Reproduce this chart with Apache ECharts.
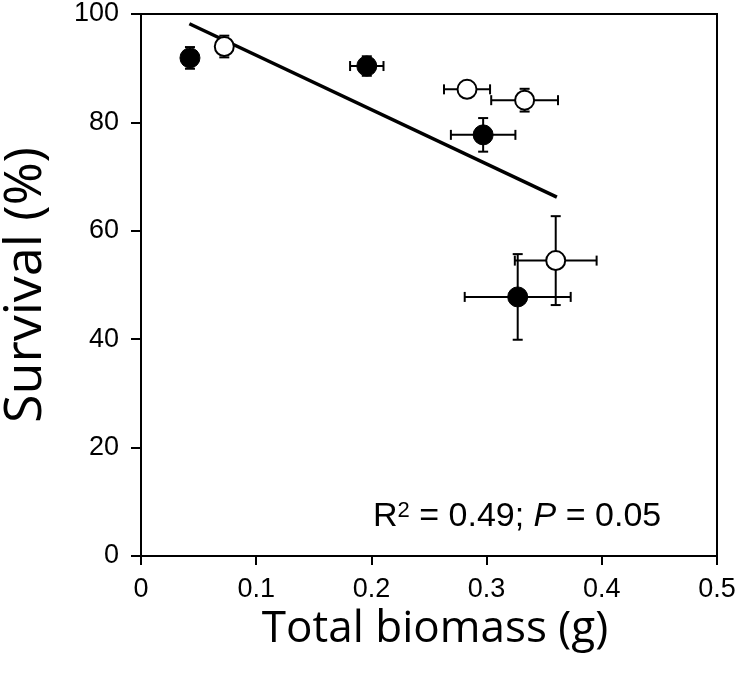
<!DOCTYPE html>
<html>
<head>
<meta charset="utf-8">
<script src="https://cdn.jsdelivr.net/npm/echarts@6/dist/echarts.min.js"></script>
<style>html,body{margin:0;padding:0;background:#fff}#c{width:741px;height:681px}</style>
</head>
<body>
<div id="c"></div>
<script>
// Filled circles: x, y, x error, y error
const filledX    = [0.0425, 0.196, 0.297, 0.327];
const filledY    = [91.9, 90.4, 77.7, 47.8];
const filledXErr = [0.0, 0.0145, 0.028, 0.046];
const filledYErr = [2.0, 1.8, 3.1, 7.9];
// Open circles
const openX    = [0.0723, 0.283, 0.333, 0.360];
const openY    = [94.0, 86.1, 84.1, 54.5];
const openXErr = [0.0, 0.020, 0.029, 0.0355];
const openYErr = [2.0, 0.0, 2.1, 8.2];
// Regression line endpoints
const lineX = [0.042, 0.361];
const lineY = [98.2, 66.2];
const xTicks = [0, 0.1, 0.2, 0.3, 0.4, 0.5];
const yTicks = [0, 20, 40, 60, 80, 100];

const chart = echarts.init(document.getElementById('c'));

function errData(xs, ys, xe, ye) {
  return xs.map((x, i) => [x, ys[i], xe[i], ye[i]]);
}
function renderErr(params, api) {
  const x = api.value(0), y = api.value(1), xe = api.value(2), ye = api.value(3);
  const children = [];
  const style = { stroke: '#000', lineWidth: 2, fill: null };
  const cap = 5;
  if (ye > 0) {
    const t = api.coord([x, y + ye]), b = api.coord([x, y - ye]);
    children.push({ type: 'line', shape: { x1: t[0], y1: t[1], x2: b[0], y2: b[1] }, style });
    children.push({ type: 'line', shape: { x1: t[0] - cap, y1: t[1], x2: t[0] + cap, y2: t[1] }, style });
    children.push({ type: 'line', shape: { x1: b[0] - cap, y1: b[1], x2: b[0] + cap, y2: b[1] }, style });
  }
  if (xe > 0) {
    const l = api.coord([x - xe, y]), r = api.coord([x + xe, y]);
    children.push({ type: 'line', shape: { x1: l[0], y1: l[1], x2: r[0], y2: r[1] }, style });
    children.push({ type: 'line', shape: { x1: l[0], y1: l[1] - cap, x2: l[0], y2: l[1] + cap }, style });
    children.push({ type: 'line', shape: { x1: r[0], y1: r[1] - cap, x2: r[0], y2: r[1] + cap }, style });
  }
  return { type: 'group', children };
}

const tickFont = { fontFamily: 'Liberation Sans', fontSize: 27, color: '#000' };

chart.setOption({
  animation: false,
  backgroundColor: '#fff',
  grid: {
    left: 141, right: 24, top: 14, bottom: 125,
    containLabel: false, outerBoundsMode: 'none',
    show: true, borderColor: '#000', borderWidth: 2, backgroundColor: 'transparent'
  },
  xAxis: {
    type: 'value', min: 0, max: 0.5, interval: 0.1,
    name: 'Total biomass (g)', nameLocation: 'middle', nameGap: 49,
    nameTextStyle: { fontFamily: 'Open Sans', fontSize: 44, color: '#000', padding: [0, 0, 0, 12] },
    axisLine: { lineStyle: { color: '#000', width: 2 } },
    axisTick: { show: true, inside: false, length: 9, lineStyle: { color: '#000', width: 2 } },
    axisLabel: Object.assign({ margin: 20, formatter: v => String(Math.round(v * 10) / 10) }, tickFont),
    splitLine: { show: false }
  },
  yAxis: {
    type: 'value', min: 0, max: 100, interval: 20,
    name: 'Survival (%)', nameLocation: 'middle', nameGap: 89,
    nameTextStyle: { fontFamily: 'Open Sans', fontSize: 52, color: '#000' },
    axisLine: { lineStyle: { color: '#000', width: 2 } },
    axisTick: { show: true, inside: false, length: 10, lineStyle: { color: '#000', width: 2 } },
    axisLabel: Object.assign({ margin: 22 }, tickFont),
    splitLine: { show: false }
  },
  graphic: [{
    type: 'text', left: 373, top: 500,
    style: {
      rich: {
        n: { fontFamily: 'Liberation Sans', fontSize: 34, fill: '#000', verticalAlign: 'bottom' },
        s: { fontFamily: 'Liberation Sans', fontSize: 22, fill: '#000', verticalAlign: 'top' },
        i: { fontFamily: 'Liberation Sans', fontSize: 34, fontStyle: 'italic', fill: '#000', verticalAlign: 'bottom' }
      },
      text: '{n|R}{s|2}{n| = 0.49; }{i|P}{n| = 0.05}'
    }
  }],
  series: [
    {
      type: 'line', data: lineX.map((x, i) => [x, lineY[i]]),
      symbol: 'none', lineStyle: { color: '#000', width: 3.5 }, z: 2
    },
    {
      type: 'custom', renderItem: renderErr, data: errData(filledX, filledY, filledXErr, filledYErr), z: 3,
      encode: { x: 0, y: 1 }
    },
    {
      type: 'custom', renderItem: renderErr, data: errData(openX, openY, openXErr, openYErr), z: 3,
      encode: { x: 0, y: 1 }
    },
    {
      type: 'scatter', data: filledX.map((x, i) => [x, filledY[i]]),
      symbol: 'circle', symbolSize: 20, itemStyle: { color: '#000', borderColor: '#000', borderWidth: 1, opacity: 1 }, z: 4
    },
    {
      type: 'scatter', data: openX.map((x, i) => [x, openY[i]]),
      symbol: 'circle', symbolSize: 19, itemStyle: { color: '#fff', borderColor: '#000', borderWidth: 2, opacity: 1 }, z: 4
    }
  ]
});
</script>
</body>
</html>
